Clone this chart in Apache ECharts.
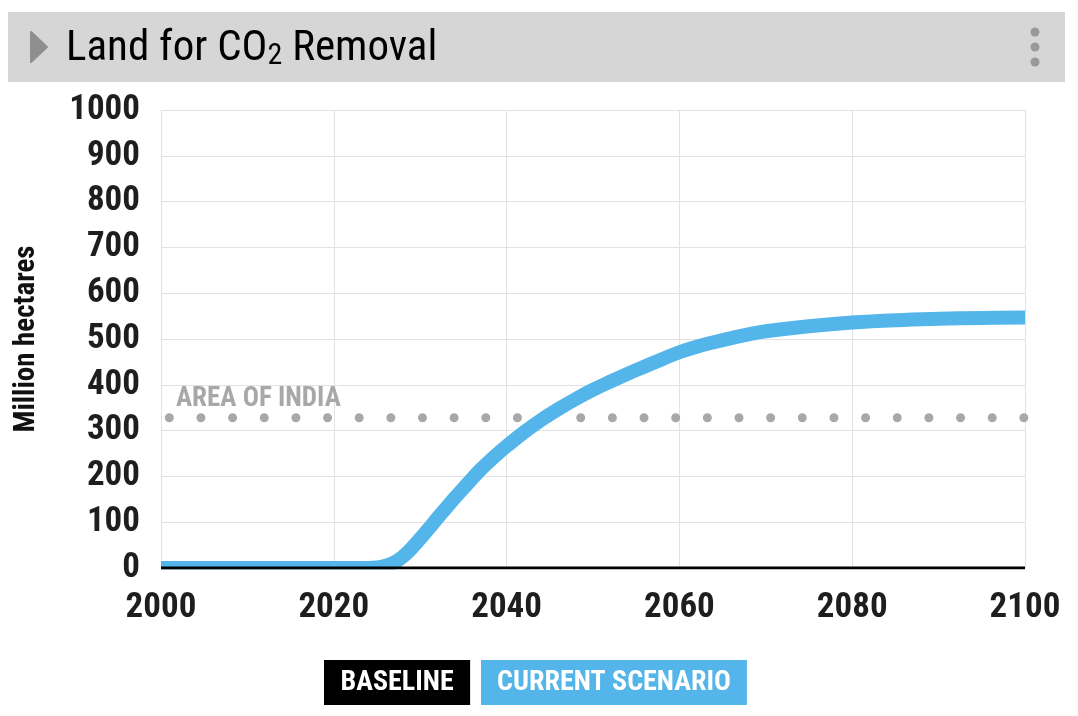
<!DOCTYPE html>
<html>
<head>
<meta charset="utf-8">
<script src="https://cdn.jsdelivr.net/npm/echarts@6/dist/echarts.min.js"></script>
<style>
html,body{margin:0;padding:0;background:#fff;}
#c{width:1078px;height:716px;}
</style>
</head>
<body>
<div id="c"></div>
<script>
// ---- data ----
var years = [2000, 2010, 2020, 2023, 2024, 2025, 2026, 2027, 2028, 2029, 2030, 2031, 2032, 2033, 2034, 2035, 2036, 2037, 2038, 2039, 2040,
             2042, 2044, 2046, 2048, 2050, 2052, 2054, 2056, 2058, 2060, 2062, 2064, 2066, 2068, 2070, 2075, 2080, 2085, 2090, 2095, 2100];
var currentScenario = [0, 0, 0, 0, 0, 1, 5, 12, 25, 43, 64, 86, 109, 131, 153, 174, 195, 215, 233, 250, 266,
             296, 323, 347, 369, 389, 407, 424, 440, 456, 471, 483, 493, 502, 510, 517, 528, 536, 541, 544, 546, 547];
var baselineYears = [2000, 2100];
var baselineValues = [0, 0];
var indiaYears = [2000, 2100];
var indiaArea = [328, 328];
var xTicks = [2000, 2020, 2040, 2060, 2080, 2100];
var yTicks = [0, 100, 200, 300, 400, 500, 600, 700, 800, 900, 1000];

function pairs(xs, ys){ return xs.map(function(x,i){ return [x, ys[i]]; }); }

var FONT = '"Liberation Sans Narrow", "Roboto Condensed", Roboto, sans-serif';
var legendText = {fontFamily: FONT, fontWeight: 'bold', fontSize: 28, lineHeight: 27, color: '#fff'};
var chart = echarts.init(document.getElementById('c'));
chart.setOption({
  animation: false,
  backgroundColor: '#fff',
  title: {
    left: 61, top: 22,
    text: '{a|Land for CO}{b|2}{a| Removal}',
    textStyle: {
      rich: {
        a: {fontFamily: FONT, fontWeight: 'normal', fontSize: 43, lineHeight: 44, color: '#000', verticalAlign: 'bottom'},
        b: {fontFamily: FONT, fontWeight: 'normal', fontSize: 30, lineHeight: 24, color: '#000', verticalAlign: 'bottom'}
      }
    }
  },
  graphic: [
    {type: 'rect', z: -10, shape: {x: 8, y: 12, width: 1057, height: 70}, style: {fill: '#d6d6d6'}},
    {type: 'polygon', shape: {points: [[31, 32], [47, 47], [31, 62]]}, style: {fill: '#8f8f8f', stroke: '#8f8f8f', lineWidth: 2, lineJoin: 'round'}},
    {type: 'circle', shape: {cx: 1035, cy: 32, r: 4.5}, style: {fill: '#999'}},
    {type: 'circle', shape: {cx: 1035, cy: 47, r: 4.5}, style: {fill: '#999'}},
    {type: 'circle', shape: {cx: 1035, cy: 62, r: 4.5}, style: {fill: '#999'}},
    {type: 'text', left: 176, top: 386, z: 5, style: {text: 'AREA OF INDIA', fill: '#a8a8aa', font: 'bold 27px ' + FONT}},
    // white mask hiding the part of the thick line that falls below the x axis
    {type: 'rect', z: 10, silent: true, shape: {x: 150, y: 569.5, width: 890, height: 8}, style: {fill: '#fff'}}
  ],
  legend: [
    {
      left: 314, top: 655, itemWidth: 0, itemHeight: 0, selectedMode: false,
      data: [{name: 'BASELINE', icon: 'rect', textStyle: {backgroundColor: '#000', padding: [9, 16.5, 9, 16.5]}}],
      textStyle: legendText
    },
    {
      left: 471, top: 655, itemWidth: 0, itemHeight: 0, selectedMode: false,
      data: [{name: 'CURRENT SCENARIO', icon: 'rect', textStyle: {backgroundColor: '#53b5ea', padding: [9, 16, 9, 16]}}],
      textStyle: legendText
    }
  ],
  grid: {left: 161, right: 53, top: 110, bottom: 148, containLabel: false},
  xAxis: {
    type: 'value', min: xTicks[0], max: xTicks[xTicks.length - 1], interval: 20,
    axisLine: {show: false}, axisTick: {show: false},
    splitLine: {show: true, lineStyle: {color: '#e2e2e2', width: 1}},
    axisLabel: {fontFamily: FONT, fontWeight: 'bold', fontSize: 35, color: '#1e1e1e', margin: 23,
      formatter: function(v){ return String(v); }}
  },
  yAxis: {
    type: 'value', min: yTicks[0], max: yTicks[yTicks.length - 1], interval: 100,
    name: 'Million hectares', nameLocation: 'middle', nameGap: 120, nameRotate: 90,
    nameTextStyle: {fontFamily: FONT, fontWeight: 'bold', fontSize: 29, color: '#111'},
    axisLine: {show: false}, axisTick: {show: false},
    splitLine: {show: true, lineStyle: {color: '#e2e2e2', width: 1}},
    axisLabel: {fontFamily: FONT, fontWeight: 'bold', fontSize: 35, color: '#1e1e1e', margin: 21,
      formatter: function(v){ return String(v); }}
  },
  series: [
    {
      name: 'AREA OF INDIA', type: 'line', data: pairs(indiaYears, indiaArea), showSymbol: false, z: 2,
      lineStyle: {color: '#a8a8aa', width: 9, type: [0, 31.65], dashOffset: 23.35, cap: 'round'}
    },
    {
      name: 'CURRENT SCENARIO', type: 'line', data: pairs(years, currentScenario), showSymbol: false,
      smooth: 0.4, z: 3, clip: true,
      itemStyle: {color: '#53b5ea'},
      lineStyle: {color: '#53b5ea', width: 14, cap: 'butt', join: 'round'}
    },
    {
      name: 'BASELINE', type: 'line', data: pairs(baselineYears, baselineValues), showSymbol: false, z: 20,
      itemStyle: {color: '#000'},
      lineStyle: {color: '#000', width: 3}
    }
  ]
});
</script>
</body>
</html>
